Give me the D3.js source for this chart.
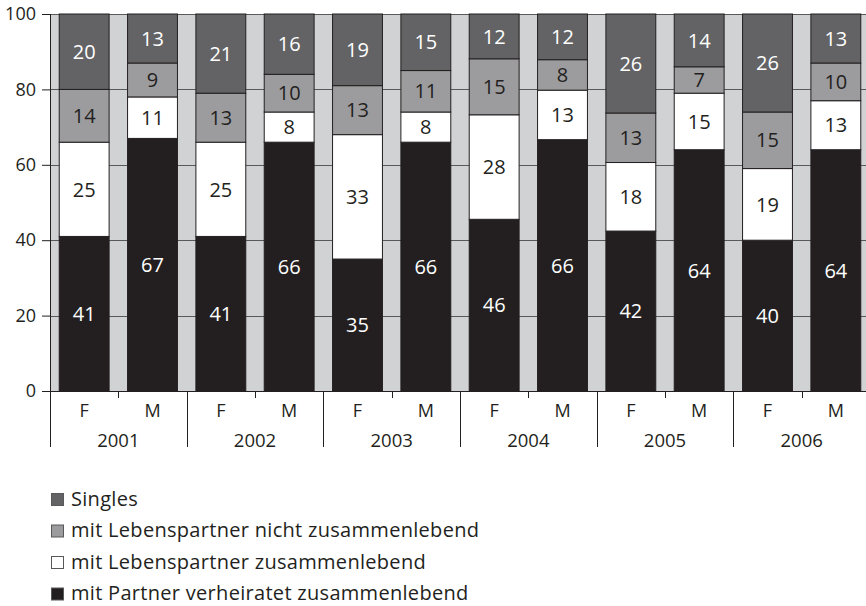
<!DOCTYPE html>
<html>
<head>
<meta charset="utf-8">
<script src="https://cdn.jsdelivr.net/npm/d3@7"></script>
<style>
  body { margin: 0; background: #fff; }
  svg text { font-family: "Open Sans", sans-serif; fill: #231f20; }
</style>
</head>
<body>
<div class="graph"></div>
<script>
// data
var years = ["2001", "2002", "2003", "2004", "2005", "2006"];
var sexes = ["F", "M"];
var verheiratet = [41, 67, 41, 66, 35, 66, 46, 66, 42, 64, 40, 64];
var zusammen = [25, 11, 25, 8, 33, 8, 28, 13, 18, 15, 19, 13];
var nichtZusammen = [14, 9, 13, 10, 13, 11, 15, 8, 13, 7, 15, 10];
var singles = [20, 13, 21, 16, 19, 15, 12, 12, 26, 14, 26, 13];
var yTicks = [0, 20, 40, 60, 80, 100];

var seriesKeys = ["verheiratet", "zusammen", "nichtZusammen", "singles"];
var seriesNames = {
    singles: "Singles",
    nichtZusammen: "mit Lebenspartner nicht zusammenlebend",
    zusammen: "mit Lebenspartner zusammenlebend",
    verheiratet: "mit Partner verheiratet zusammenlebend"
};
var colors = {
    verheiratet: "#231f20",
    zusammen: "#ffffff",
    nichtZusammen: "#9c9c9e",
    singles: "#636365"
};
var labelColors = {
    verheiratet: "#ffffff",
    zusammen: "#231f20",
    nichtZusammen: "#231f20",
    singles: "#ffffff"
};

(function () {
    var rows = [];
    years.forEach(function (yr, yi) {
        sexes.forEach(function (s, si) {
            var i = yi * 2 + si;
            rows.push({
                key: yr + s, year: yr, sex: s,
                verheiratet: verheiratet[i],
                zusammen: zusammen[i],
                nichtZusammen: nichtZusammen[i],
                singles: singles[i]
            });
        });
    });

    var width = 866, height = 606;
    var left = 50, plotTop = 14, bottom = 391, axisEnd = 447;

    var svg = d3.select(".graph").append("svg")
        .attr("width", width)
        .attr("height", height);

    var x = d3.scaleBand()
        .domain(rows.map(function (d) { return d.key; }))
        .range([left, 870])
        .paddingInner(0.27)
        .paddingOuter(0.135);

    var y = d3.scaleLinear()
        .domain([0, 1])
        .range([bottom, plotTop]);

    // each bar is shown as shares of its own total (tops all sit at 100)
    var stack = d3.stack()
        .keys(seriesKeys)
        .offset(d3.stackOffsetExpand);
    var layers = stack(rows);

    // plot background
    svg.append("rect")
        .attr("x", left)
        .attr("y", plotTop)
        .attr("width", width - left)
        .attr("height", bottom - plotTop)
        .attr("fill", "#d1d2d4");

    // y axis + grid
    var yAxis = d3.axisLeft(y)
        .tickValues(yTicks.map(function (t) { return t / 100; }))
        .tickFormat(function (d) { return Math.round(d * 100); })
        .tickSize(8)
        .tickPadding(6);

    var gy = svg.append("g")
        .attr("transform", "translate(" + left + ",0)")
        .call(yAxis);
    gy.select(".domain").remove();
    gy.selectAll(".tick line").attr("stroke", "#231f20");
    gy.selectAll(".tick text")
        .style("font-size", "18px")
        .attr("fill", "#231f20");

    svg.append("g").selectAll("line")
        .data(yTicks)
        .join("line")
        .attr("x1", left)
        .attr("x2", width)
        .attr("y1", function (d) { return Math.round(y(d / 100)) + 0.5; })
        .attr("y2", function (d) { return Math.round(y(d / 100)) + 0.5; })
        .attr("stroke", "#58595b")
        .attr("stroke-width", 1);

    // bars
    var groups = svg.append("g").selectAll("g")
        .data(layers)
        .join("g")
        .attr("fill", function (d) { return colors[d.key]; });

    groups.selectAll("rect")
        .data(function (d) { return d; })
        .join("rect")
        .attr("x", function (d) { return x(d.data.key); })
        .attr("y", function (d) { return y(d[1]); })
        .attr("width", x.bandwidth())
        .attr("height", function (d) { return y(d[0]) - y(d[1]); })
        .attr("stroke", "#231f20")
        .attr("stroke-width", 1);

    // value labels
    layers.forEach(function (layer) {
        svg.append("g").selectAll("text")
            .data(layer)
            .join("text")
            .attr("x", function (d) { return x(d.data.key) + x.bandwidth() / 2; })
            .attr("y", function (d) { return (y(d[0]) + y(d[1])) / 2; })
            .attr("dy", "0.36em")
            .attr("text-anchor", "middle")
            .style("font-size", "20px")
            .style("fill", labelColors[layer.key])
            .text(function (d) { return d.data[layer.key]; });
    });

    // x axis: baseline, sex ticks, year separators
    svg.append("line")
        .attr("x1", left).attr("x2", width)
        .attr("y1", bottom + 0.5).attr("y2", bottom + 0.5)
        .attr("stroke", "#231f20");

    var step = x.step();
    years.forEach(function (yr) {
        var x0 = x(yr + "F") - step * x.paddingInner() / 2;
        var mid = x(yr + "M") - step * x.paddingInner() / 2;
        var x1 = x0 + 2 * step;

        svg.append("line")
            .attr("x1", Math.round(x0) + 0.5).attr("x2", Math.round(x0) + 0.5)
            .attr("y1", bottom).attr("y2", axisEnd)
            .attr("stroke", "#231f20");
        svg.append("line")
            .attr("x1", Math.round(mid) + 0.5).attr("x2", Math.round(mid) + 0.5)
            .attr("y1", bottom).attr("y2", bottom + 7)
            .attr("stroke", "#231f20");

        sexes.forEach(function (s) {
            svg.append("text")
                .attr("x", x(yr + s) + x.bandwidth() / 2)
                .attr("y", 417)
                .attr("text-anchor", "middle")
                .style("font-size", "18px")
                .text(s);
        });

        svg.append("text")
            .attr("x", (x0 + x1) / 2)
            .attr("y", 447)
            .attr("text-anchor", "middle")
            .style("font-size", "18.5px")
            .text(yr);
    });

    // left axis line, running down through the category rows
    svg.append("line")
        .attr("x1", left + 0.5).attr("x2", left + 0.5)
        .attr("y1", plotTop).attr("y2", axisEnd)
        .attr("stroke", "#231f20");

    // legend
    var legendKeys = ["singles", "nichtZusammen", "zusammen", "verheiratet"];
    var legend = svg.append("g").selectAll("g")
        .data(legendKeys)
        .join("g")
        .attr("transform", function (d, i) { return "translate(51," + (493 + i * 31.5) + ")"; });

    legend.append("rect")
        .attr("x", 0.5).attr("y", 0.5)
        .attr("width", 12).attr("height", 12)
        .attr("fill", function (d) { return colors[d]; })
        .attr("stroke", "#58595b");

    legend.append("text")
        .attr("x", 20)
        .attr("y", 6)
        .attr("dy", "0.34em")
        .style("font-size", "20px")
        .style("letter-spacing", "0.3px")
        .text(function (d) { return seriesNames[d]; });
})();
</script>
</body>
</html>
